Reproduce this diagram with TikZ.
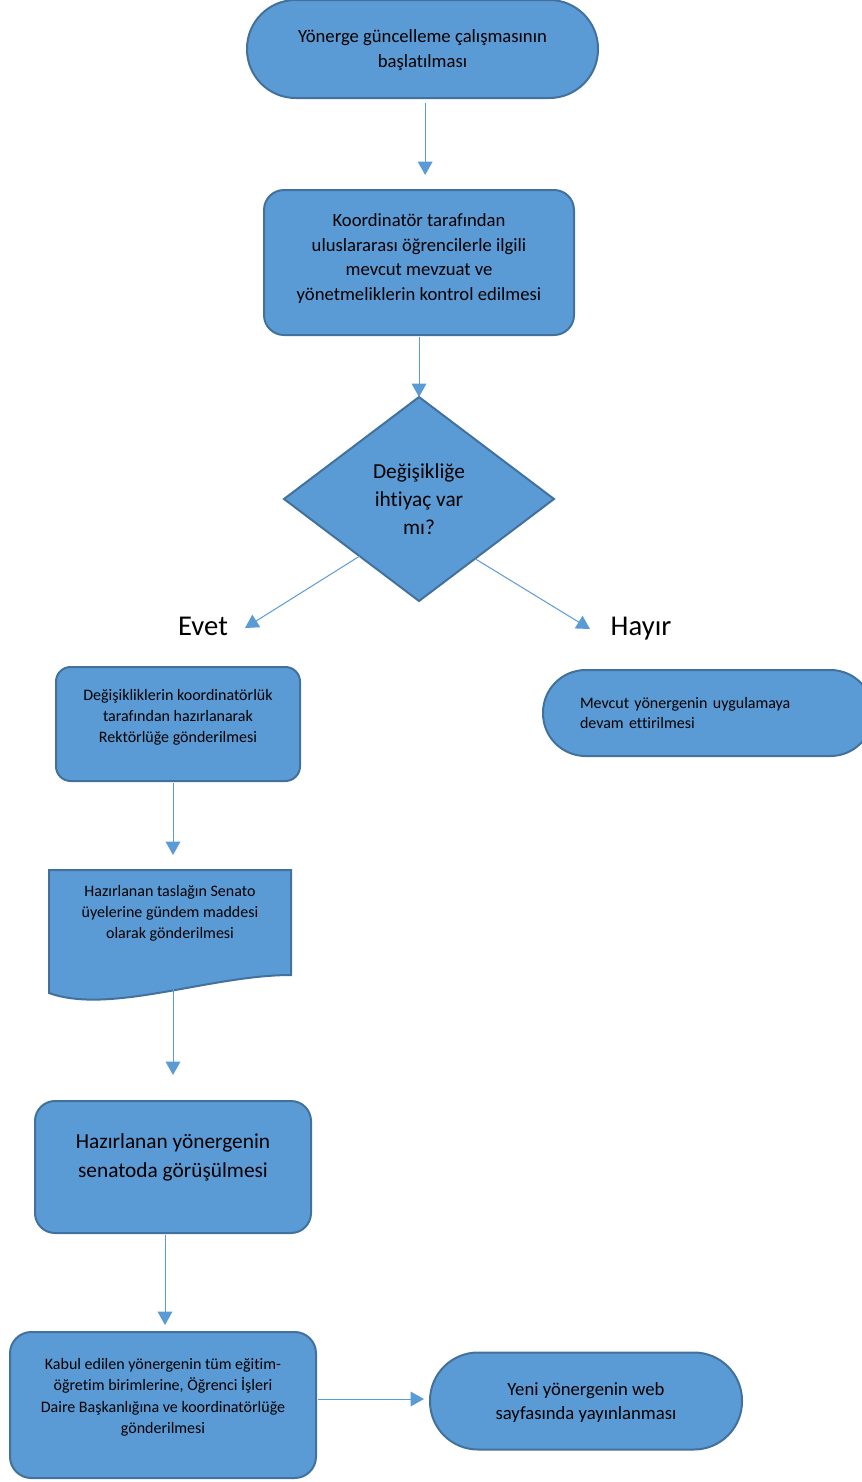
\documentclass[tikz,border=0pt]{standalone}
\usepackage{fontspec}
\setmainfont{Carlito}[Ligatures=NoCommon]
\usetikzlibrary{shapes.geometric,arrows.meta,calc}
\definecolor{boxblue}{HTML}{5B9BD5}
\definecolor{edgeblue}{HTML}{41719C}
\begin{document}
\begin{tikzpicture}[x=0.75pt,y=-0.75pt,
    kutu/.style={draw=edgeblue, fill=boxblue, line width=1.5pt, align=center, inner sep=0pt, outer sep=0pt},
    ok/.style={draw=boxblue, line width=0.75pt, -{Triangle[width=11pt,length=10pt]}},
    yazi/.style 2 args={font=\fontsize{#1}{#2}\selectfont}]
                    \useasboundingbox (0,0) rectangle (861,1482);
                    % basla
                    \node[kutu, yazi={14}{18.4}, text depth=1pt, minimum width=263.25pt, minimum height=73.5pt, rounded corners=36.5pt] (basla) at (422.5,49) {Yönerge güncelleme çalışmasının\\başlatılması};
                    \node[kutu, yazi={14}{18.4}, text depth=8pt, minimum width=232.5pt, minimum height=108.75pt, rounded corners=15pt] (kontrol) at (419,262.5) {Koordinatör tarafından\\uluslararası öğrencilerle ilgili\\mevcut mevzuat ve\\yönetmeliklerin kontrol edilmesi};
                    \node[kutu, yazi={16}{21}, diamond, minimum width=202.5pt, minimum height=153pt, aspect=1.32] (karar) at (419,499) {Değişikliğe\\ihtiyaç var\\mı?};
                    \node[yazi={21.5}{26}, text depth=0pt] (evet) at (203,626) {Evet};
                    \node[yazi={21.5}{26}, text depth=0pt] (hayir) at (641,626) {Hayır};
                    \coordinate (evetuc) at (245,628);
                    \coordinate (hayiruc) at (590,629);
                    % evet kolu
                    \node[kutu, yazi={12}{15.8}, text depth=12pt, minimum width=183pt, minimum height=85.5pt, rounded corners=11pt] (hazirla) at (178,724) {Değişikliklerin koordinatörlük\\tarafından hazırlanarak\\Rektörlüğe gönderilmesi};
                    \filldraw[draw=edgeblue, fill=boxblue, line width=1.5pt] (49,870) -- (291,870) -- (291,975) .. controls (210,975) and (110,1015) .. (49,993) -- cycle;
                    \node[yazi={12}{15.8}, align=center] (taslak) at (170,913) {Hazırlanan taslağın Senato\\üyelerine gündem maddesi\\olarak gönderilmesi};
                    \node[kutu, yazi={16}{21.5}, text depth=17.5pt, minimum width=207pt, minimum height=99pt, rounded corners=15pt] (senato) at (173,1167) {Hazırlanan yönergenin\\senatoda görüşülmesi};
                    \node[kutu, yazi={12}{16}, text depth=13.5pt, minimum width=229.5pt, minimum height=109.5pt, rounded corners=16pt] (kabul) at (163,1405) {Kabul edilen yönergenin tüm eğitim-\\öğretim birimlerine, Öğrenci İşleri\\Daire Başkanlığına ve koordinatörlüğe\\gönderilmesi};
                    \node[kutu, yazi={14}{18.6}, text depth=0pt, minimum width=234pt, minimum height=72.75pt, rounded corners=36pt] (web) at (586,1401) {Yeni yönergenin web\\sayfasında yayınlanması};
                    % hayir kolu
                    \node[kutu, yazi={12}{15}, align=left, text width=192pt, minimum width=247.5pt, minimum height=64.5pt, rounded corners=32pt] (devam) at (708,713) {Mevcut yönergenin uygulamaya\\devam ettirilmesi};
                    % oklar
                    \draw[ok, shorten <=3.75pt, shorten >=11.25pt] ([xshift=2pt]basla.south) -- ([xshift=2pt]basla.south |- kontrol.north);
                    \draw[ok, shorten <=1.5pt] (kontrol.south) -- (karar.north);
                    \draw[ok] ($(karar.west)!0.56!(karar.south)$) -- (evetuc);
                    \draw[ok] ($(karar.east)!0.585!(karar.south)$) -- (hayiruc);
                    \draw[ok, shorten <=1.5pt, shorten >=11.25pt] ([xshift=-3.75pt]hazirla.south) -- ([xshift=-3.75pt]hazirla.south |- 0,870);
                    \draw[ok, shorten <=22pt, shorten >=19.5pt] ([xshift=2.25pt]taslak.south) -- (senato.north);
                    \draw[ok, shorten <=1.5pt, shorten >=5.25pt] ([xshift=-6pt]senato.south) -- ([xshift=-6pt]senato.south |- kabul.north);
                    \draw[ok, shorten <=1.5pt, shorten >=4.5pt] ([yshift=4.5pt]kabul.east) -- ([yshift=4.5pt]kabul.east -| web.west);
                \end{tikzpicture}
\end{document}
